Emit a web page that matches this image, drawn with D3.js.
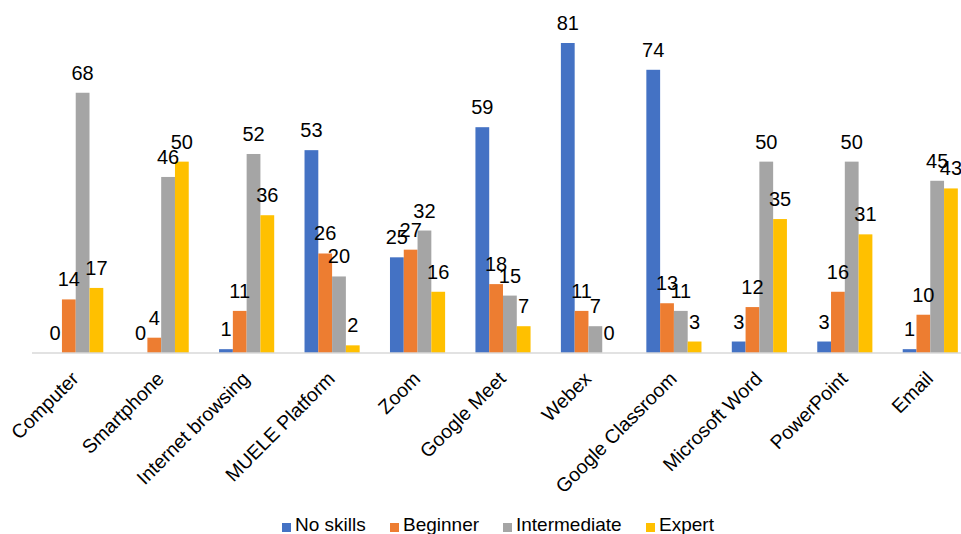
<!DOCTYPE html>
<html>
<head>
<meta charset="utf-8">
<script src="https://cdn.jsdelivr.net/npm/d3@7"></script>
<style>
  html, body { margin: 0; padding: 0; background: #fff; }
  svg { display: block; font-family: "Liberation Sans", Arial, sans-serif; }
</style>
</head>
<body>
<svg id="chart" width="961" height="534"></svg>
<script>
const categories = ["Computer", "Smartphone", "Internet browsing", "MUELE Platform", "Zoom", "Google Meet", "Webex", "Google Classroom", "Microsoft Word", "PowerPoint", "Email"];
const seriesNames = ["No skills", "Beginner", "Intermediate", "Expert"];
const noSkills = [0, 0, 1, 53, 25, 59, 81, 74, 3, 3, 1];
const beginner = [14, 4, 11, 26, 27, 18, 11, 13, 12, 16, 10];
const intermediate = [68, 46, 52, 20, 32, 15, 7, 11, 50, 50, 45];
const expert = [17, 50, 36, 2, 16, 7, 0, 3, 35, 31, 43];
const colors = ["#4472C4", "#ED7D31", "#A5A5A5", "#FFC000"];

const seriesValues = [noSkills, beginner, intermediate, expert];
const svg = d3.select("#chart");

const x0 = d3.scaleBand().domain(categories).range([33, 973]).paddingInner(0).paddingOuter(0);
const x1 = d3.scaleBand().domain(seriesNames).range([0, x0.bandwidth()]).paddingInner(0).paddingOuter(1.1);
const y = d3.scaleLinear().domain([0, 81]).range([353, 43]);
const color = d3.scaleOrdinal().domain(seriesNames).range(colors);

const rows = [];
categories.forEach((c, ci) => {
  seriesNames.forEach((s, si) => {
    rows.push({cat: c, series: s, value: seriesValues[si][ci]});
  });
});

// bars
svg.append("g").selectAll("rect").data(rows).join("rect")
  .attr("x", d => x0(d.cat) + x1(d.series))
  .attr("y", d => y(d.value))
  .attr("width", x1.bandwidth())
  .attr("height", d => y(0) - y(d.value))
  .attr("fill", d => color(d.series));

// axis
const axis = svg.append("g")
  .attr("transform", `translate(0,${y(0)})`)
  .call(d3.axisBottom(x0).tickSize(0).tickSizeOuter(0));
axis.select(".domain").attr("stroke", "#D9D9D9").attr("stroke-width", 1.5)
  .attr("d", `M32,0H961`);
axis.selectAll(".tick text")
  .attr("font-size", 19.5)
  .attr("fill", "#000")
  .attr("font-family", "Liberation Sans, Arial, sans-serif")
  .attr("text-anchor", "end")
  .attr("y", 0).attr("dy", 0)
  .attr("transform", "translate(4,27) rotate(-45)");

// value labels
svg.append("g").selectAll("text").data(rows).join("text")
  .attr("x", d => x0(d.cat) + x1(d.series) + x1.bandwidth() / 2)
  .attr("y", d => y(d.value) - 13)
  .attr("text-anchor", "middle")
  .attr("font-size", 20)
  .attr("fill", "#000")
  .text(d => d.value);

// legend
const legendX = [282, 390, 503, 646];
const legend = svg.append("g");
seriesNames.forEach((s, i) => {
  legend.append("rect")
    .attr("x", legendX[i]).attr("y", 523)
    .attr("width", 9).attr("height", 9)
    .attr("fill", color(s));
  legend.append("text")
    .attr("x", legendX[i] + 13).attr("y", 531)
    .attr("font-size", 19)
    .attr("fill", "#000")
    .text(s);
});
</script>
</body>
</html>
